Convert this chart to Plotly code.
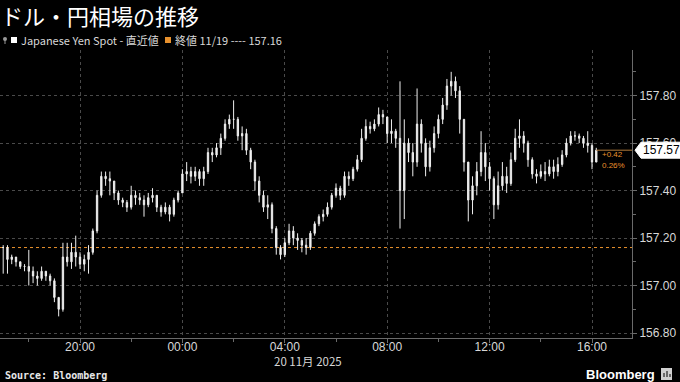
import plotly.graph_objects as go
import pandas as pd

# ---------------- data (10-minute bars) ----------------
start_time = "2025-11-19 17:00"
first_open = 157.16
prev_close = 157.16
last_price = 157.57
change_text = "+0.42"
change_pct_text = "0.26%"

close = [157.16, 157.11, 157.12, 157.10, 157.08, 157.08, 157.06, 157.04, 157.03, 157.06,
         157.04, 157.02, 156.95, 156.90, 157.12, 157.10, 157.14, 157.12, 157.09, 157.11,
         157.14, 157.23, 157.38, 157.46, 157.45, 157.44, 157.39, 157.36, 157.35, 157.33,
         157.38, 157.37, 157.36, 157.34, 157.37, 157.38, 157.33, 157.31, 157.33, 157.30,
         157.36, 157.39, 157.47, 157.48, 157.46, 157.48, 157.45, 157.48, 157.56, 157.55,
         157.58, 157.62, 157.68, 157.70, 157.70, 157.63, 157.64, 157.57, 157.52, 157.44,
         157.38, 157.33, 157.34, 157.24, 157.16, 157.13, 157.18, 157.23, 157.20, 157.19,
         157.17, 157.16, 157.22, 157.26, 157.29, 157.30, 157.33, 157.38, 157.41, 157.38,
         157.46, 157.45, 157.49, 157.53, 157.62, 157.67, 157.66, 157.68, 157.72, 157.71,
         157.64, 157.65, 157.62, 157.40, 157.60, 157.56, 157.52, 157.68, 157.60, 157.50,
         157.58, 157.64, 157.70, 157.76, 157.84, 157.86, 157.82, 157.70, 157.52, 157.36,
         157.42, 157.48, 157.56, 157.50, 157.45, 157.34, 157.42, 157.46, 157.43, 157.53,
         157.62, 157.63, 157.60, 157.53, 157.47, 157.46, 157.48, 157.47, 157.50, 157.48,
         157.51, 157.55, 157.60, 157.63, 157.63, 157.62, 157.60, 157.59, 157.52, 157.57]

high = [157.17, 157.17, 157.13, 157.12, 157.10, 157.09, 157.15, 157.08, 157.06, 157.08,
        157.06, 157.05, 157.03, 156.95, 157.18, 157.18, 157.18, 157.21, 157.14, 157.13,
        157.17, 157.24, 157.40, 157.48, 157.48, 157.48, 157.44, 157.40, 157.37, 157.36,
        157.42, 157.40, 157.39, 157.38, 157.39, 157.41, 157.38, 157.34, 157.35, 157.34,
        157.37, 157.40, 157.49, 157.52, 157.50, 157.50, 157.49, 157.50, 157.58, 157.58,
        157.60, 157.64, 157.70, 157.72, 157.78, 157.71, 157.67, 157.66, 157.58, 157.53,
        157.46, 157.40, 157.38, 157.35, 157.25, 157.17, 157.20, 157.26, 157.25, 157.22,
        157.20, 157.20, 157.23, 157.27, 157.30, 157.32, 157.35, 157.39, 157.43, 157.42,
        157.48, 157.48, 157.50, 157.55, 157.66, 157.70, 157.69, 157.70, 157.75, 157.74,
        157.71, 157.70, 157.66, 157.86, 157.70, 157.62, 157.60, 157.83, 157.70, 157.62,
        157.61, 157.67, 157.72, 157.79, 157.87, 157.90, 157.88, 157.84, 157.70, 157.52,
        157.46, 157.52, 157.65, 157.60, 157.52, 157.46, 157.48, 157.52, 157.50, 157.56,
        157.66, 157.70, 157.65, 157.61, 157.54, 157.49, 157.51, 157.52, 157.53, 157.53,
        157.54, 157.57, 157.62, 157.65, 157.65, 157.64, 157.63, 157.65, 157.60, 157.58]

low = [157.05, 157.05, 157.09, 157.08, 157.07, 157.06, 157.00, 157.01, 157.00, 157.02,
       157.02, 157.00, 156.93, 156.87, 156.89, 157.08, 157.07, 157.08, 157.07, 157.06,
       157.05, 157.13, 157.22, 157.37, 157.42, 157.38, 157.36, 157.34, 157.33, 157.31,
       157.32, 157.34, 157.34, 157.29, 157.33, 157.35, 157.31, 157.29, 157.30, 157.27,
       157.29, 157.35, 157.39, 157.44, 157.43, 157.44, 157.42, 157.42, 157.47, 157.52,
       157.54, 157.55, 157.61, 157.66, 157.66, 157.61, 157.57, 157.55, 157.49, 157.40,
       157.35, 157.31, 157.28, 157.22, 157.13, 157.11, 157.12, 157.17, 157.17, 157.15,
       157.14, 157.13, 157.15, 157.21, 157.25, 157.27, 157.29, 157.32, 157.37, 157.36,
       157.37, 157.42, 157.44, 157.48, 157.52, 157.61, 157.64, 157.65, 157.67, 157.68,
       157.60, 157.60, 157.58, 157.24, 157.28, 157.52, 157.46, 157.50, 157.56, 157.46,
       157.48, 157.56, 157.62, 157.68, 157.74, 157.80, 157.79, 157.64, 157.48, 157.27,
       157.30, 157.38, 157.46, 157.44, 157.40, 157.28, 157.32, 157.40, 157.39, 157.42,
       157.52, 157.58, 157.56, 157.50, 157.45, 157.43, 157.45, 157.44, 157.46, 157.45,
       157.46, 157.50, 157.54, 157.59, 157.61, 157.60, 157.58, 157.56, 157.49, 157.52]

y_ticks = [156.80, 157.00, 157.20, 157.40, 157.60, 157.80]
y_tick_labels = ["156.80", "157.00", "157.20", "157.40", "157.60", "157.80"]
x_ticks = ["2025-11-19 20:00", "2025-11-20 00:00", "2025-11-20 04:00",
           "2025-11-20 08:00", "2025-11-20 12:00", "2025-11-20 16:00"]
x_tick_labels = ["20:00", "00:00", "04:00", "08:00", "12:00", "16:00"]

title_text = "ドル・円相場の推移"
legend_series = "Japanese Yen Spot - 直近値"
legend_ref = "終値 11/19 ---- 157.16"
date_label = "20 11月 2025"
source_text = "Source: Bloomberg"

times = pd.date_range(start_time, periods=len(close), freq="10min")
open_ = [first_open] + close[:-1]

# ---------------- figure ----------------
W, H = 680, 382
L, R, T, B = 0, 48, 50, 44
PW, PH = W - L - R, H - T - B


def px(x):
    return (x - L) / PW


def py(y):
    return (H - B - y) / PH


ORANGE = "#e8912d"
GREY = "#6a6a6a"
TXT = "#d8d8d8"
CJK = "Noto Sans CJK JP"

fig = go.Figure()
fig.add_trace(go.Candlestick(
    x=times, open=open_, high=high, low=low, close=close,
    increasing=dict(line=dict(color="#eeeeee", width=1), fillcolor="#f4f4f4"),
    decreasing=dict(line=dict(color="#eeeeee", width=1), fillcolor="#f4f4f4"),
    whiskerwidth=0, showlegend=False, hoverinfo="skip",
))

x_range = [pd.Timestamp("2025-11-19 16:52:30"), pd.Timestamp("2025-11-20 17:33:45")]

shapes = []
# previous close dotted orange line
shapes.append(dict(type="line", xref="paper", x0=0, x1=1, yref="y", y0=prev_close, y1=prev_close,
                   line=dict(color=ORANGE, width=1, dash="dot"), layer="below"))
# last price line
shapes.append(dict(type="line", xref="x", x0=times[-1], x1=x_range[1], yref="y",
                   y0=last_price, y1=last_price, line=dict(color="#b07a3c", width=1)))
# last price tag
shapes.append(dict(type="path", xref="paper", yref="y", xsizemode="pixel", ysizemode="pixel",
                   xanchor=1, yanchor=last_price,
                   path="M 3,0 L 9,8 L 48,8 L 48,-8 L 9,-8 Z",
                   fillcolor="#ffffff", line=dict(color="#ffffff", width=1)))
# legend markers
shapes.append(dict(type="rect", xref="paper", yref="paper", x0=px(11), x1=px(17), y0=py(43), y1=py(37),
                   fillcolor="#ffffff", line=dict(width=0)))
shapes.append(dict(type="rect", xref="paper", yref="paper", x0=px(165), x1=px(171), y0=py(43), y1=py(37),
                   fillcolor=ORANGE, line=dict(width=0)))
shapes.append(dict(type="circle", xref="paper", yref="paper", x0=px(3), x1=px(7), y0=py(41), y1=py(37),
                   fillcolor="#9a9a9a", line=dict(width=0)))
shapes.append(dict(type="line", xref="paper", yref="paper", x0=px(5), x1=px(5), y0=py(44), y1=py(40),
                   line=dict(color="#9a9a9a", width=1)))
# bloomberg logo square
shapes.append(dict(type="rect", xref="paper", yref="paper", x0=px(661), x1=px(672), y0=py(380), y1=py(368),
                   fillcolor="#cfcfcf", line=dict(width=0)))
shapes.append(dict(type="line", xref="paper", yref="paper", x0=px(664), x1=px(664), y0=py(377), y1=py(373),
                   line=dict(color="#000000", width=1)))
shapes.append(dict(type="line", xref="paper", yref="paper", x0=px(667), x1=px(667), y0=py(377), y1=py(371),
                   line=dict(color="#000000", width=1)))
shapes.append(dict(type="line", xref="paper", yref="paper", x0=px(670), x1=px(670), y0=py(377), y1=py(374),
                   line=dict(color="#000000", width=1)))

annotations = [
    dict(text=title_text, xref="paper", yref="paper", x=px(0), y=py(15.5), xanchor="left", yanchor="middle",
         showarrow=False, borderpad=0, font=dict(family=CJK, size=22, color="#ffffff")),
    dict(text=legend_series, xref="paper", yref="paper", x=px(19), y=py(40), xanchor="left", yanchor="middle",
         showarrow=False, font=dict(family=CJK, size=11, color=TXT)),
    dict(text=legend_ref, xref="paper", yref="paper", x=px(173), y=py(40), xanchor="left", yanchor="middle",
         showarrow=False, font=dict(family=CJK, size=11, color=TXT)),
    dict(text=date_label, xref="paper", yref="paper", x=px(308), y=py(361), xanchor="center", yanchor="middle",
         showarrow=False, borderpad=0, font=dict(family=CJK, size=11.5, color=TXT)),
    dict(text="<b>" + source_text + "</b>", xref="paper", yref="paper", x=px(3), y=py(375), xanchor="left",
         yanchor="middle", showarrow=False, font=dict(family="DejaVu Sans Mono", size=10, color="#e8e8e8")),
    dict(text="<b>Bloomberg</b>", xref="paper", yref="paper", x=px(657), y=py(374), xanchor="right",
         yanchor="middle", showarrow=False, font=dict(family="Liberation Sans", size=13, color="#ffffff")),
    dict(text=str(f"{last_price:.2f}"), xref="paper", yref="y", x=1, y=last_price, xshift=9, xanchor="left",
         yanchor="middle", showarrow=False, font=dict(family="Liberation Sans", size=12, color="#000000")),
    dict(text=change_text, xref="x", yref="paper", x=times[-1], y=py(154), xshift=4, xanchor="left",
         yanchor="middle", showarrow=False, font=dict(family="Liberation Sans", size=8, color=ORANGE)),
    dict(text=change_pct_text, xref="x", yref="paper", x=times[-1], y=py(165), xshift=4, xanchor="left",
         yanchor="middle", showarrow=False, font=dict(family="Liberation Sans", size=8, color=ORANGE)),
]

fig.update_layout(
    width=W, height=H,
    margin=dict(l=L, r=R, t=T, b=B),
    paper_bgcolor="#000000", plot_bgcolor="#000000",
    shapes=shapes, annotations=annotations,
    showlegend=False,
    boxgap=0.55,
    xaxis=dict(
        type="date", range=x_range, rangeslider=dict(visible=False),
        tickvals=x_ticks, ticktext=x_tick_labels,
        tickfont=dict(family="Liberation Sans", size=12, color=TXT),
        ticks="outside", ticklen=4, tickcolor=GREY, ticklabelstandoff=-6,
        showgrid=True, gridcolor="#4a4a4a", griddash="dot", gridwidth=1,
        showline=True, linecolor=GREY, linewidth=1,
        zeroline=False,
        minor=dict(dtick=2 * 3600 * 1000, tick0="2025-11-19 20:00", ticks="outside", ticklen=3,
                   tickcolor=GREY, showgrid=False),
    ),
    yaxis=dict(
        side="right", range=[156.779, 157.992],
        tickvals=y_ticks, ticktext=y_tick_labels,
        tickfont=dict(family="Liberation Sans", size=12, color=TXT),
        ticks="outside", ticklen=4, tickcolor=GREY,
        showgrid=True, gridcolor="#4a4a4a", griddash="dot", gridwidth=1,
        showline=True, linecolor=GREY, linewidth=1,
        zeroline=False,
        minor=dict(dtick=0.1, ticks="outside", ticklen=3, tickcolor=GREY, showgrid=False),
    ),
)

fig.write_html("out.html")
